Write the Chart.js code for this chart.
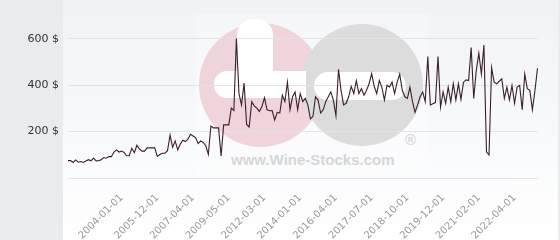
<!DOCTYPE html>
<html>
<head>
<meta charset="utf-8">
<script src="https://cdn.jsdelivr.net/npm/chart.js@4"></script>
<style>
  html, body { margin: 0; padding: 0; background: #ffffff; }
  #wrap { position: relative; width: 560px; height: 240px; overflow: hidden; }
  #leftPanel { position: absolute; left: 0; top: 0; width: 63px; height: 240px; background: #e8ecef; }
  #plotPanel { position: absolute; left: 63px; top: 0; width: 495px; height: 240px;
               background: linear-gradient(to bottom, #f0f2f5 0%, #f8f9fb 55%, #ffffff 100%); }
  #rightEdge { position: absolute; left: 558px; top: 0; width: 2px; height: 240px; background: #e8ecef; }
  .wm { position: absolute; }
  #wmBg { left: 196px; top: 14px; width: 232px; height: 162px; background: rgba(255,255,255,0.3); }
  #pink { left: 199px; top: 23px; width: 124px; height: 124px; border-radius: 50%; background: #efd4db; }
  #grey { left: 301px; top: 24px; width: 122px; height: 122px; border-radius: 50%; background: #dcdcdd; }
  #pinkBar { left: 214px; top: 71px; width: 92px; height: 27px; border-radius: 13px 0 0 13px; background: #ffffff; }
  #pinkArm { left: 237px; top: 19px; width: 36px; height: 70px; border-radius: 16px 16px 0 0; background: #ffffff; }
  #greyBar { left: 314px; top: 72px; width: 92px; height: 28px; border-radius: 14px; background: #ffffff; }
  #wmText { left: 231px; top: 151px; font: bold 15px "Liberation Sans", Arial, sans-serif; color: #d6d6d8; white-space: nowrap; }
  #wmReg { left: 405px; top: 131px; font: bold 15px "Liberation Sans", Arial, sans-serif; color: #d6d6d8; }
  canvas { position: absolute; left: 0; top: 0; }
</style>
</head>
<body>
<div id="wrap">
  <div id="leftPanel"></div>
  <div id="plotPanel"></div>
  <div id="rightEdge"></div>
  <div class="wm" id="wmBg"></div>
  <div class="wm" id="pink"></div>
  <div class="wm" id="grey"></div>
  <div class="wm" id="pinkBar"></div>
  <div class="wm" id="pinkArm"></div>
  <div class="wm" id="greyBar"></div>
  <div class="wm" id="wmText">www.Wine-Stocks.com</div>
  <div class="wm" id="wmReg">®</div>
  <canvas id="c" width="560" height="240"></canvas>
</div>
<script>
const values = [
  75, 75, 67, 78, 68, 71, 67, 73, 79, 74, 86, 74, 75, 79, 88, 85, 92, 92, 112, 121, 112, 116, 110, 96, 96, 128, 109, 141,
  125, 116, 116, 130, 130, 130, 130, 93, 101, 107, 107, 118, 185, 132, 160, 121, 146, 163, 157, 167, 188, 181, 174, 149, 160, 153, 139, 102,
  224, 216, 216, 216, 95, 229, 229, 229, 301, 291, 601, 364, 315, 409, 231, 220, 329, 311, 301, 287, 308, 346, 294, 290, 291, 250, 283, 280, 357,
  329, 413, 294, 350, 371, 294, 364, 329, 343, 315, 255, 266, 350, 336, 280, 294, 329, 350, 371, 336, 269, 468, 378, 315, 322, 350, 395,
  364, 420, 364, 385, 357, 378, 406, 450, 395, 364, 420, 392, 336, 399, 392, 413, 364, 413, 448, 378, 350, 343, 392, 329, 283, 315, 350, 371,
  329, 524, 315, 320, 325, 524, 305, 371, 322, 392, 329, 406, 336, 406, 339, 413, 423, 420, 562, 343, 462, 538, 448, 573, 113, 99, 476,
  413, 406, 417, 427, 343, 392, 336, 399, 322, 392, 399, 294, 448, 385, 378, 294, 378, 473
];

// Dates shown on the x axis
const tickLabels = ['2004-01-01', '2005-12-01', '2007-04-01', '2009-05-01', '2012-03-01', '2014-01-01',
                    '2016-04-01', '2017-07-01', '2018-10-01', '2019-12-01', '2021-02-01', '2022-04-01'];
const firstLabelIndex = 21;
const labelStep = 14;

// Y axis ticks
const yTicks = [0, 200, 400, 600];
const yMax = 700;

const categories = values.map((_, i) => {
  const k = i - firstLabelIndex;
  if (k >= 0 && k % labelStep === 0 && k / labelStep < tickLabels.length) return tickLabels[k / labelStep];
  return '';
});

new Chart(document.getElementById('c'), {
  type: 'line',
  data: {
    labels: categories,
    datasets: [{
      data: values,
      borderColor: '#3b1e2c',
      borderWidth: 1.1,
      pointRadius: 0,
      tension: 0,
      fill: false
    }]
  },
  options: {
    responsive: false,
    animation: false,
    devicePixelRatio: 1,
    layout: { padding: { top: 11, right: 5, left: 0, bottom: 0 } },
    plugins: { legend: { display: false }, tooltip: { enabled: false } },
    scales: {
      x: {
        type: 'category',
        offset: false,
        grid: { display: false, drawTicks: false },
        border: { display: false },
        ticks: {
          autoSkip: false,
          maxRotation: 45,
          minRotation: 45,
          color: '#999999',
          font: { family: 'DejaVu Sans', size: 10 },
          padding: 14,
          callback: (v, i) => categories[i]
        },
        afterFit: s => { s.height = 62; }
      },
      y: {
        min: 0,
        max: yMax,
        grid: { color: '#e2e3e6', drawTicks: false },
        border: { display: false },
        afterBuildTicks: s => { s.ticks = yTicks.map(v => ({ value: v })); },
        ticks: {
          color: '#333333',
          font: { family: 'DejaVu Sans', size: 11 },
          padding: 9,
          callback: v => (v === 0 ? '' : v + ' $')
        },
        afterFit: s => { s.width = 68; }
      }
    }
  }
});
</script>
</body>
</html>
